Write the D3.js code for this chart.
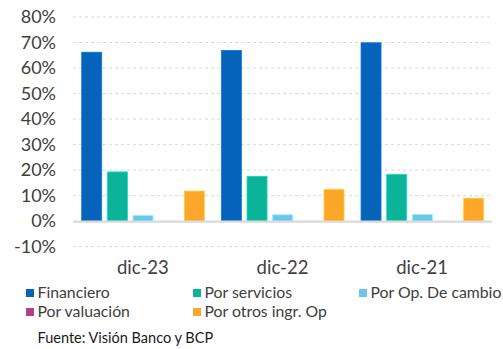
<!DOCTYPE html>
<html><head><meta charset="utf-8">
<script src="https://cdn.jsdelivr.net/npm/d3@7"></script>
<style>body{margin:0;background:#fff;}svg{display:block;font-family:Lato,"Open Sans",sans-serif;}</style>
</head><body>
<svg id="c" width="503" height="349"></svg>
<script>
const categories = ["dic-23","dic-22","dic-21"];
const seriesNames = ["Financiero","Por servicios","Por Op. De cambio","Por valuación","Por otros ingr. Op"];
const seriesColors = ["#0563b9","#0bb39a","#6ec4ea","#b04386","#fda72a"];
const financiero = [0.662, 0.669, 0.699];
const servicios = [0.193, 0.176, 0.183];
const cambio = [0.022, 0.025, 0.026];
const valuacion = [0, 0, 0];
const otros = [0.118, 0.125, 0.090];
const yTicks = [-0.1,0,0.1,0.2,0.3,0.4,0.5,0.6,0.7,0.8];
const source = "Fuente: Visión Banco y BCP";

const values = [financiero, servicios, cambio, valuacion, otros];
const svg = d3.select("#c");
const left = 73, right = 492;
const y = d3.scaleLinear().domain([-0.1, 0.8]).range([246.7, 17]);
const x0 = d3.scaleBand().domain(categories).range([left, right]).paddingInner(0).paddingOuter(0);
const x1 = d3.scaleBand().domain(seriesNames).range([8.7, x0.bandwidth()-8.3]).paddingInner(0.22).paddingOuter(0);

// gridlines
svg.append("g").selectAll("line").data(yTicks.filter(d=>d!==0)).join("line")
  .attr("x1",left).attr("x2",right)
  .attr("y1",d=>y(d)).attr("y2",d=>y(d))
  .attr("stroke","#d9d9d9").attr("stroke-width",1).attr("stroke-dasharray","3,3");

// y axis labels
const pct = d3.format(".0%");
const yAxis = d3.axisLeft(y).tickValues(yTicks).tickFormat(d => pct(d).replace("\u2212","-")).tickSize(0).tickPadding(0);
const ga = svg.append("g").attr("transform","translate(56,0)").call(yAxis);
ga.select(".domain").remove();
ga.selectAll("text").attr("font-size",18).attr("fill","#404040").attr("font-family","Lato");

// bars
const groups = svg.append("g").selectAll("g").data(categories).join("g")
  .attr("transform",d=>`translate(${x0(d)},0)`);
groups.selectAll("rect").data((c,ci)=>seriesNames.map((s,si)=>({s,si,v:values[si][ci]})))
  .join("rect")
  .attr("x",d=>x1(d.s)).attr("width",x1.bandwidth())
  .attr("y",d=>Math.min(y(d.v),y(0))).attr("height",d=>Math.abs(y(d.v)-y(0)))
  .attr("fill",d=>seriesColors[d.si])
  .attr("stroke",d=>d3.color(seriesColors[d.si]).brighter(0.6)).attr("stroke-width",d=>d.v===0?0:0.8);

// zero line
svg.append("line").attr("x1",left).attr("x2",right).attr("y1",y(0)+0.5).attr("y2",y(0)+0.5)
  .attr("stroke","#d9d9d9").attr("stroke-width",2.2);

// x labels
const xAxis = d3.axisBottom(x0).tickSize(0).tickPadding(0);
const gx = svg.append("g").attr("transform","translate(0,261)").call(xAxis);
gx.select(".domain").remove();
gx.selectAll("text").attr("font-size",18.5).attr("fill","#404040").attr("font-family","Lato").attr("dy","0.72em");

// legend
const legPos = [[26,289],[193,289],[359,289],[26,308],[193,308]];
const leg = svg.append("g").selectAll("g").data(seriesNames).join("g")
  .attr("transform",(d,i)=>`translate(${legPos[i][0]},${legPos[i][1]})`);
leg.append("rect").attr("width",8).attr("height",8).attr("fill",(d,i)=>seriesColors[i]);
leg.append("text").attr("x",11.5).attr("y",9).attr("font-size",15.8).attr("fill","#404040").text(d=>d);

svg.append("text").attr("x",37.5).attr("y",343).attr("font-size",14.5).attr("fill","#1a1a1a").text(source);
</script>
</body></html>
